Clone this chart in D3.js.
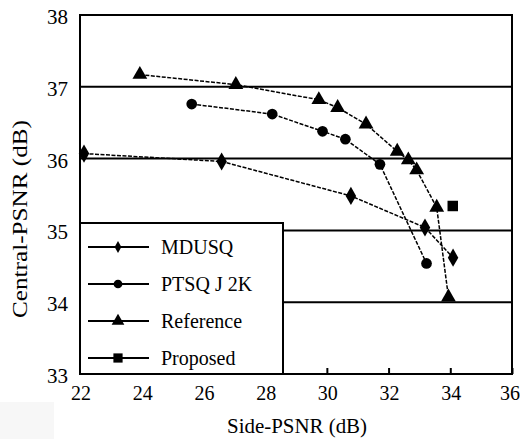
<!DOCTYPE html>
<html>
<head>
<meta charset="utf-8">
<script src="https://cdn.jsdelivr.net/npm/d3@7"></script>
<style>
  body { margin: 0; background: #fff; }
  text { font-family: "Liberation Serif", "Times New Roman", serif; fill: #000; }
</style>
</head>
<body>
<script>
// Chart settings
const width = 520
const height = 439
const plotLeft = 80
const plotRight = 512
const plotTop = 15
const plotBottom = 374

// Data
const xTicks = [22, 24, 26, 28, 30, 32, 34, 36]
const yTicks = [33, 34, 35, 36, 37, 38]
const gridValues = [34, 35, 36, 37]

const mdusqX = [22.13, 26.59, 30.78, 33.18, 34.09]
const mdusqY = [36.07, 35.96, 35.48, 35.04, 34.62]

const ptsqX = [25.62, 28.23, 29.86, 30.6, 31.72, 33.23]
const ptsqY = [36.76, 36.62, 36.38, 36.27, 35.92, 34.54]

const refX = [23.94, 27.05, 29.74, 30.35, 31.27, 32.28, 32.64, 32.91, 33.56, 33.94]
const refY = [37.17, 37.03, 36.82, 36.71, 36.48, 36.1, 35.98, 35.84, 35.32, 34.07]

const propX = [34.08]
const propY = [35.34]

const seriesNames = ['MDUSQ', 'PTSQ J 2K', 'Reference', 'Proposed']

const series = [
  { name: seriesNames[0], xs: mdusqX, ys: mdusqY, symbol: d3.symbolDiamond, size: 95, legendSize: 40 },
  { name: seriesNames[1], xs: ptsqX, ys: ptsqY, symbol: d3.symbolCircle, size: 90, legendSize: 60 },
  { name: seriesNames[2], xs: refX, ys: refY, symbol: d3.symbolTriangle, size: 95, legendSize: 70 },
  { name: seriesNames[3], xs: propX, ys: propY, symbol: d3.symbolSquare, size: 110, legendSize: 85 }
]

const svg = d3.select('body').append('svg')
  .attr('width', width)
  .attr('height', height)

// faint grey patch bottom-left (scan artefact)
svg.append('rect')
  .attr('x', 0).attr('y', 402).attr('width', 54).attr('height', 37)
  .attr('fill', '#f7f7f7')

const xScale = d3.scaleLinear().domain([22, 36]).range([plotLeft, plotRight])
const yScale = d3.scaleLinear().domain([33, 38]).range([plotBottom, plotTop])

// Gridlines
svg.selectAll('.grid')
  .data(gridValues)
  .enter()
  .append('line')
  .attr('class', 'grid')
  .attr('x1', plotLeft)
  .attr('x2', plotRight)
  .attr('y1', d => yScale(d))
  .attr('y2', d => yScale(d))
  .attr('stroke', '#000')
  .attr('stroke-width', 2)

// X axis ticks pointing inward
const xAxis = d3.axisTop(xScale)
  .tickValues(xTicks)
  .tickSize(6)
  .tickFormat('')
const xg = svg.append('g')
  .attr('transform', `translate(0, ${plotBottom})`)
  .call(xAxis)
xg.select('.domain').remove()
xg.selectAll('line').attr('stroke-width', 2)

// Tick labels
svg.selectAll('.xlab')
  .data(xTicks)
  .enter()
  .append('text')
  .attr('x', d => Math.min(xScale(d) + 1, width - 10))
  .attr('y', 400)
  .attr('text-anchor', 'middle')
  .style('font-size', '20px')
  .text(d => d)

svg.selectAll('.ylab')
  .data(yTicks)
  .enter()
  .append('text')
  .attr('x', 68)
  .attr('y', d => yScale(d) + 9)
  .attr('text-anchor', 'end')
  .style('font-size', '21px')
  .text(d => d)

// Lines and markers
const line = d3.line()
  .x(d => xScale(d[0]))
  .y(d => yScale(d[1]))

series.forEach(s => {
  const pts = s.xs.map((x, i) => [x, s.ys[i]])
  if (pts.length > 1) {
    svg.append('path')
      .datum(pts)
      .attr('d', line)
      .attr('fill', 'none')
      .attr('stroke', '#000')
      .attr('stroke-width', 1.5)
      .attr('stroke-dasharray', '4,1.5')
  }
  svg.selectAll(null)
    .data(pts)
    .enter()
    .append('path')
    .attr('d', d3.symbol().type(s.symbol).size(s.size))
    .attr('transform', d => `translate(${xScale(d[0])}, ${yScale(d[1])})`)
    .attr('fill', '#000')
})

// Legend box
const legend = svg.append('g')
legend.append('rect')
  .attr('x', plotLeft)
  .attr('y', 223)
  .attr('width', 203)
  .attr('height', plotBottom - 223)
  .attr('fill', '#fff')
  .attr('stroke', '#000')
  .attr('stroke-width', 2)

const legendY = d3.scalePoint().domain(seriesNames).range([247, 358])

series.forEach(s => {
  const y = legendY(s.name)
  legend.append('line')
    .attr('x1', 88).attr('x2', 149)
    .attr('y1', y).attr('y2', y)
    .attr('stroke', '#000')
    .attr('stroke-width', 2)
  legend.append('path')
    .attr('d', d3.symbol().type(s.symbol).size(s.legendSize))
    .attr('transform', `translate(118, ${y})`)
    .attr('fill', '#000')
  legend.append('text')
    .attr('x', 161)
    .attr('y', y + 7)
    .style('font-size', '20px')
    .text(s.name)
})

// Frame
svg.append('rect')
  .attr('x', plotLeft)
  .attr('y', plotTop)
  .attr('width', plotRight - plotLeft)
  .attr('height', plotBottom - plotTop)
  .attr('fill', 'none')
  .attr('stroke', '#000')
  .attr('stroke-width', 2)

// Axis titles
svg.append('text')
  .attr('x', 297)
  .attr('y', 433)
  .attr('text-anchor', 'middle')
  .attr('textLength', 140)
  .attr('lengthAdjust', 'spacingAndGlyphs')
  .style('font-size', '21px')
  .text('Side-PSNR (dB)')

svg.append('text')
  .attr('transform', 'translate(27, 219) rotate(-90)')
  .attr('text-anchor', 'middle')
  .attr('textLength', 198)
  .attr('lengthAdjust', 'spacingAndGlyphs')
  .style('font-size', '22px')
  .text('Central-PSNR (dB)')
</script>
</body>
</html>
